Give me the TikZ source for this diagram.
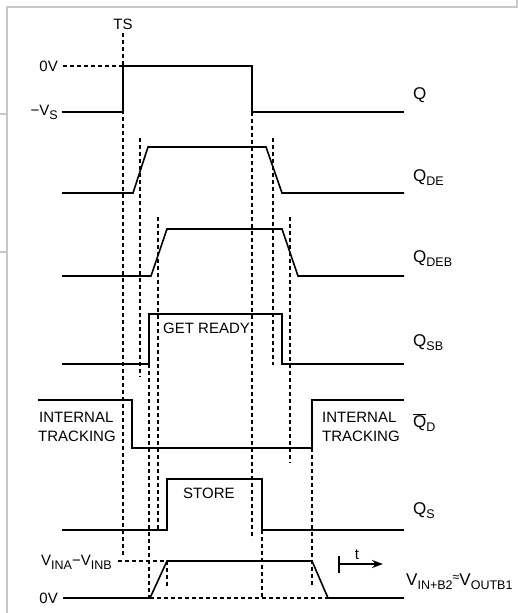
\documentclass[tikz,border=0pt]{standalone}
\usepackage{fontspec}
\setmainfont{Liberation Sans}
\usetikzlibrary{arrows.meta}
\definecolor{framegray}{RGB}{200,200,200}
\newcommand\sbx[1]{\raisebox{-4pt}{\fontsize{12.5}{12.5}\selectfont #1}}
\begin{document}
\begin{tikzpicture}[x=1pt,y=-1pt,
  sig/.style={line width=1.6pt, line join=miter},
  guide/.style={line width=1.3pt, dash pattern=on 4pt off 3pt},
  framel/.style={line width=1.6pt, draw=framegray},
  lbl/.style={inner sep=0pt, font=\fontsize{15}{17}\selectfont},
  rlbl/.style={inner sep=0pt, anchor=base west, font=\fontsize{17}{19}\selectfont},
]
\useasboundingbox (0,0) rectangle (518,613);
% frame remnants
\draw[framel] (7,613) -- (7,7) -- (517,7) -- (517,0);
\draw[framel] (0,114) -- (7,114);
\draw[framel] (0,252) -- (7,252);

% guide lines
\draw[guide] (123,33) -- (123,557);
\draw[guide] (63,66) -- (123,66);
\draw[guide] (140,138) -- (140,377);
\draw[guide] (273,138) -- (273,365);
\draw[guide] (252,112) -- (252,539);
\draw[guide] (158,217) -- (158,530);
\draw[guide] (290,217) -- (290,463);
\draw[guide] (149,364) -- (149,598);
\draw[guide] (312,448) -- (312,587);
\draw[guide] (262,530) -- (262,598);
\draw[guide] (167,561) -- (167,587);
\draw[guide] (118,561) -- (167,561);
\draw[guide] (150,598) -- (328,598);

% signals
\draw[sig] (62,112) -- (123,112) -- (123,66) -- (252,66) -- (252,112) -- (404,112);
\draw[sig] (62,193) -- (133,193) -- (148,147) -- (266,147) -- (282,193) -- (404,193);
\draw[sig] (62,276) -- (151,276) -- (167,229) -- (282,229) -- (298,276) -- (404,276);
\draw[sig] (62,364) -- (149,364) -- (149,314) -- (282,314) -- (282,364) -- (404,364);
\draw[sig] (38,400) -- (132,400) -- (132,448) -- (312,448) -- (312,400) -- (404,400);
\draw[sig] (62,530) -- (167,530) -- (167,479) -- (262,479) -- (262,530) -- (404,530);
\draw[sig] (63,598) -- (150,598) -- (167,561) -- (312,561) -- (328,598) -- (404,598);

% time arrow
\coordinate (t0) at (339,564);
\coordinate (t1) at (383,564);
\draw[line width=1.6pt] (339,556) -- (339,573);
\draw[line width=1.5pt, -{Stealth[length=11pt,width=8pt]}] (t0) -- (t1);
\node[lbl, anchor=base] (tl) at (357,559) {t};

% left labels
\node[lbl, anchor=base] (ts) at (123,29) {TS};
\node[lbl, anchor=base east] (zv1) at (58,71) {0V};
\node[lbl, anchor=base east] (vs) at (58,115) {−V\sbx{S}};
\node[lbl, anchor=base west] (vin) at (41,565) {V\sbx{INA}−V\sbx{INB}};
\node[lbl, anchor=base east] (zv2) at (58,603) {0V};
\node[lbl, anchor=base west] (it1) at (39,422) {INTERNAL};
\node[lbl, anchor=base west] (it2) at (38,441) {TRACKING};
\node[lbl, anchor=base west] (it3) at (322,422) {INTERNAL};
\node[lbl, anchor=base west] (it4) at (322,441) {TRACKING};
\node[lbl, anchor=base west] (gr) at (163,333) {GET READY};
\node[lbl, anchor=base west] (st) at (183,498) {STORE};

% right labels
\node[rlbl] (lq) at (413,99) {Q};
\node[rlbl] (lqde) at (413,181) {Q\sbx{DE}};
\node[rlbl] (lqdeb) at (413,262) {Q\sbx{DEB}};
\node[rlbl] (lqsb) at (413,346) {Q\sbx{SB}};
\node[rlbl] (lqd) at (413,427) {$\overline{\hbox{Q}}$\sbx{D}};
\node[rlbl] (lqs) at (413,514) {Q\sbx{S}};
\node[rlbl] (lv) at (406,585) {V\sbx{IN+B2}\raisebox{4pt}{\fontsize{12.5}{12.5}\selectfont ≈}V\sbx{OUTB1}};
\end{tikzpicture}
\end{document}
